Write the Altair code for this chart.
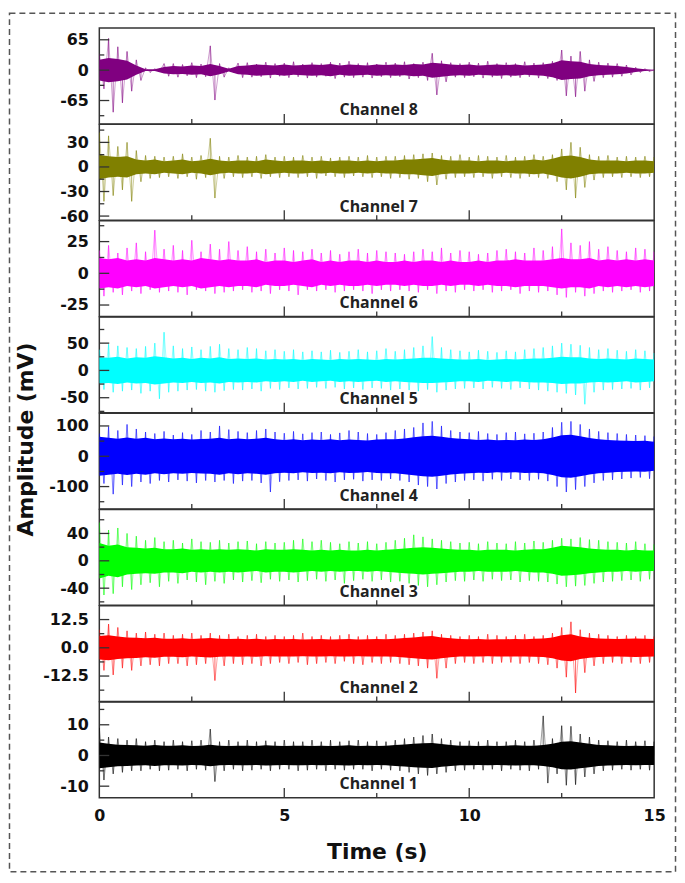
import altair as alt
import pandas as pd

CHANNELS = ["Channel 8", "Channel 7", "Channel 6", "Channel 5",
            "Channel 4", "Channel 3", "Channel 2", "Channel 1"]
COLORS = ["#800080", "#808000", "#ff00ff", "#00ffff",
          "#0000ff", "#00ff00", "#ff0000", "#000000"]
DOMAINS = [[-115, 90], [-65, 52], [-34, 41.5], [-77.5, 98],
           [-174, 142], [-65, 75], [-23.8, 18.6], [-13.8, 17.4]]
MAJOR = [[-65, 0, 65], [-60, -30, 0, 30], [-25, 0, 25], [-50, 0, 50],
         [-100, 0, 100], [-40, 0, 40], [-12.5, 0, 12.5], [-10, 0, 10]]
MINOR = [[-97.5, -32.5, 32.5], [-45, -15, 15, 45], [-12.5, 12.5, 37.5],
         [-75, -25, 25, 75], [-150, -50, 50], [-60, -20, 20, 60],
         [-18.75, -6.25, 6.25], [-5, 5, 15]]
LABEL_FMT = ["d", "d", "d", "d", "d", "d", ".1f", "d"]
X_LABELS = [0, 5, 10, 15]
X_MAJOR = [5, 10]
X_MINOR = [2.5, 7.5, 12.5]

# signal envelopes read every 0.25 s: upper / lower spike extremes and dense core half-width
CH8_UP = [35, 68, 50, 40, 22, 5, 3, 14, 14, 12, 16, 13, 52, 14, 5, 15,
          16, 13, 17, 14, 15, 18, 13, 16, 14, 17, 15, 19, 14, 16, 13, 17,
          15, 18, 14, 17, 36, 20, 16, 14, 17, 15, 19, 14, 16, 14, 18, 15,
          16, 19, 43, 30, 40, 22, 17, 15, 14, 11, 6, 3, 1]
CH8_LO = [-40, -90, -70, -45, -22, -5, -3, -13, -15, -12, -16, -14, -64, -15, -5, -16,
          -15, -14, -17, -13, -16, -14, -17, -15, -13, -18, -15, -16, -15, -17, -14, -16,
          -14, -19, -16, -22, -53, -25, -15, -16, -14, -17, -15, -18, -15, -16, -14, -17,
          -18, -22, -55, -57, -45, -24, -16, -15, -13, -10, -5, -3, -1]
CH8_CORE = [22, 26, 24, 20, 10, 2, 2, 7, 9, 8, 10, 9, 13, 9, 3, 9,
            10, 12, 11, 10, 12, 10, 11, 12, 11, 13, 10, 12, 11, 10, 12, 11,
            12, 11, 13, 12, 16, 14, 12, 11, 12, 10, 11, 12, 11, 12, 10, 11,
            12, 15, 21, 19, 18, 13, 11, 10, 9, 7, 4, 2, 1]

CH7_UP = [42, 38, 25, 30, 20, 14, 13, 12, 13, 16, 12, 14, 35, 13, 12, 14,
          12, 13, 15, 12, 13, 12, 14, 12, 13, 11, 12, 13, 12, 14, 12, 13,
          13, 14, 15, 16, 17, 14, 13, 15, 12, 14, 13, 12, 14, 12, 13, 15,
          13, 15, 22, 30, 24, 15, 13, 14, 12, 13, 12, 13, 12]
CH7_LO = [-42, -35, -28, -42, -18, -14, -13, -12, -14, -12, -15, -13, -38, -14, -12, -13,
          -12, -14, -12, -13, -12, -13, -12, -14, -11, -12, -13, -11, -12, -13, -12, -14,
          -13, -15, -14, -18, -22, -15, -13, -12, -13, -12, -14, -12, -13, -14, -12, -13,
          -14, -18, -28, -38, -25, -16, -13, -12, -13, -12, -13, -12, -11]
CH7_CORE = [15, 13, 12, 13, 9, 8, 9, 7, 8, 9, 7, 8, 10, 8, 7, 8,
            8, 7, 9, 8, 7, 8, 8, 7, 8, 7, 8, 8, 7, 8, 7, 8,
            8, 9, 9, 10, 11, 9, 8, 8, 8, 7, 8, 8, 7, 8, 8, 9,
            8, 10, 13, 14, 12, 9, 8, 8, 8, 7, 8, 8, 7]

CH6_UP = [18, 22, 16, 20, 24, 17, 34, 19, 22, 18, 26, 17, 23, 19, 25, 18,
          21, 17, 19, 16, 20, 18, 17, 19, 16, 18, 15, 17, 19, 16, 18, 17,
          16, 15, 17, 19, 17, 20, 16, 18, 17, 15, 16, 18, 19, 17, 16, 20,
          18, 21, 35, 24, 22, 25, 19, 21, 18, 17, 20, 19, 17]
CH6_LO = [-18, -15, -17, -14, -16, -13, -15, -14, -15, -17, -13, -14, -16, -15, -14, -13,
          -15, -14, -16, -13, -14, -17, -13, -14, -13, -15, -14, -13, -14, -16, -13, -14,
          -13, -14, -15, -13, -16, -14, -15, -13, -14, -13, -15, -14, -13, -16, -14, -15,
          -14, -17, -19, -15, -18, -16, -14, -15, -14, -13, -15, -14, -12]
CH6_CORE = [12, 11, 12, 10, 11, 10, 12, 11, 10, 11, 10, 12, 11, 10, 11, 10,
            10, 11, 9, 10, 10, 9, 10, 11, 9, 10, 9, 10, 10, 9, 10, 9,
            9, 10, 9, 10, 10, 9, 10, 9, 9, 10, 9, 10, 10, 11, 10, 10,
            10, 11, 12, 11, 11, 12, 10, 11, 10, 11, 10, 11, 10]

CH5_UP = [38, 48, 45, 42, 40, 44, 50, 70, 45, 40, 43, 38, 44, 48, 40, 38,
          42, 40, 36, 38, 35, 38, 34, 36, 34, 37, 33, 35, 38, 34, 36, 40,
          35, 38, 42, 45, 62, 42, 38, 36, 34, 37, 35, 33, 36, 34, 38, 40,
          42, 45, 50, 48, 46, 42, 38, 40, 37, 35, 38, 36, 32]
CH5_LO = [-35, -40, -38, -36, -42, -38, -52, -40, -38, -36, -35, -38, -40, -37, -35, -36,
          -34, -38, -33, -35, -32, -34, -33, -31, -33, -31, -34, -32, -35, -32, -33, -36,
          -34, -36, -38, -35, -40, -36, -34, -33, -32, -34, -31, -33, -35, -32, -34, -36,
          -38, -40, -42, -45, -62, -40, -36, -35, -34, -33, -36, -32, -30]
CH5_CORE = [24, 23, 25, 22, 24, 23, 26, 24, 22, 23, 21, 23, 22, 24, 21, 22,
            21, 22, 20, 21, 20, 21, 19, 21, 20, 19, 21, 20, 21, 20, 19, 21,
            20, 21, 22, 23, 23, 22, 21, 20, 20, 21, 19, 20, 21, 20, 21, 22,
            22, 23, 25, 24, 24, 22, 21, 22, 21, 20, 22, 21, 20]

CH4_UP = [75, 98, 85, 105, 90, 80, 75, 82, 70, 78, 72, 85, 80, 100, 88, 82,
          78, 85, 90, 80, 76, 82, 74, 78, 80, 72, 77, 85, 80, 75, 72, 78,
          85, 90, 95, 110, 115, 100, 85, 80, 78, 82, 75, 72, 78, 80, 74, 76,
          80, 95, 112, 115, 105, 90, 82, 78, 75, 72, 70, 68, 65]
CH4_LO = [-90, -125, -95, -100, -85, -90, -80, -85, -78, -82, -88, -80, -85, -80, -90, -82,
          -80, -88, -118, -84, -80, -78, -82, -75, -80, -85, -78, -76, -82, -78, -80, -75,
          -80, -85, -95, -100, -108, -90, -85, -80, -78, -82, -76, -80, -75, -78, -80, -76,
          -82, -100, -118, -110, -100, -88, -80, -78, -75, -72, -70, -74, -60]
CH4_CORE = [64, 61, 58, 62, 58, 61, 56, 59, 56, 58, 55, 57, 58, 61, 56, 59,
            56, 58, 61, 56, 54, 56, 53, 55, 54, 56, 53, 55, 54, 52, 55, 56,
            56, 59, 63, 66, 68, 64, 60, 58, 56, 54, 55, 53, 54, 53, 55, 54,
            56, 62, 69, 71, 66, 60, 56, 54, 52, 51, 50, 51, 48]

CH3_UP = [56, 45, 48, 40, 36, 30, 34, 28, 30, 26, 32, 28, 27, 30, 26, 28,
          29, 25, 28, 26, 27, 30, 32, 28, 30, 27, 25, 28, 26, 28, 25, 27,
          30, 33, 38, 35, 32, 30, 28, 26, 27, 25, 28, 26, 25, 28, 26, 29,
          27, 30, 33, 32, 34, 31, 30, 28, 27, 26, 28, 25, 24]
CH3_LO = [-50, -48, -38, -42, -35, -32, -38, -30, -33, -28, -31, -35, -30, -33, -28, -31,
          -29, -32, -27, -30, -28, -31, -29, -27, -30, -28, -33, -29, -27, -30, -28, -31,
          -30, -33, -36, -38, -35, -31, -29, -30, -28, -30, -27, -29, -28, -31, -29, -30,
          -31, -34, -38, -37, -36, -33, -31, -30, -29, -28, -30, -27, -25]
CH3_CORE = [26, 22, 24, 20, 19, 18, 19, 17, 17, 18, 16, 17, 16, 17, 16, 17,
            16, 15, 17, 16, 16, 17, 16, 15, 16, 15, 16, 15, 15, 16, 15, 16,
            17, 18, 19, 20, 19, 18, 17, 16, 16, 15, 16, 16, 16, 15, 16, 17,
            17, 19, 22, 21, 20, 18, 17, 16, 16, 15, 16, 15, 15]

CH2_UP = [8, 10.5, 9, 7.5, 6.5, 7, 6, 6.5, 5.5, 6, 6.5, 5.5, 6.5, 5.5, 6, 5,
          5.5, 6, 5, 5.5, 5, 5.5, 6.5, 5, 5.5, 5, 5.5, 6, 5, 5.5, 5, 6,
          5.5, 6, 6.5, 7, 7.5, 6, 5.5, 5, 5.5, 5, 6, 5.5, 5, 5.5, 6, 5,
          5.5, 6.5, 9, 11.5, 8, 6.5, 6, 5.5, 5, 5.5, 5, 5.5, 5]
CH2_LO = [-10, -12, -9, -10, -8, -7.5, -8, -7, -7, -8, -7.5, -7, -14.5, -8, -7, -7.5,
          -7, -8, -7, -6.5, -7, -6.5, -7.5, -7, -6.5, -7, -6, -7, -7.5, -6.5, -7, -6.5,
          -7, -7.5, -8, -9, -13.5, -9, -7, -6.5, -7, -6.5, -7, -6.5, -6.5, -7, -6.5, -7,
          -7.5, -9, -13, -20, -11, -8, -7, -6.5, -7, -6.5, -7, -6.5, -6]
CH2_CORE = [5.2, 5.5, 5, 4.6, 4.5, 4.2, 4.4, 4, 4, 4.2, 3.9, 4.1, 4.3, 4, 3.9, 4,
            3.8, 4, 3.7, 3.9, 3.8, 3.9, 3.7, 3.8, 3.9, 3.7, 3.8, 3.9, 3.7, 3.8, 3.9, 3.8,
            4, 4.3, 4.6, 5, 5.2, 4.6, 4.2, 3.9, 3.8, 3.9, 3.7, 3.8, 3.8, 3.9, 3.8, 4,
            4.1, 4.6, 5.6, 6, 5, 4.4, 4.1, 4, 3.9, 4, 4.1, 4, 3.9]

CH1_UP = [9, 6, 5.5, 5, 5.5, 4.5, 5, 4.5, 5, 4.5, 4.8, 5, 8.6, 4.5, 5, 4.5,
          5, 4.5, 4.8, 4.5, 5, 4.5, 4.5, 5, 4.5, 5, 4.5, 4.8, 5, 4.5, 4.8, 4.5,
          5, 5.5, 6, 6.5, 7, 5.5, 5, 4.5, 4.8, 4.5, 5, 4.5, 4.5, 5, 4.5, 5,
          12.9, 5.5, 9.7, 9.5, 7, 6, 5, 4.8, 4.5, 5, 4.5, 4.8, 4.5]
CH1_LO = [-8, -6, -5.5, -5, -5, -4.5, -5, -4.8, -4.5, -5, -4.5, -4.8, -8.5, -5, -4.5, -5,
          -4.8, -4.5, -5, -4.5, -4.5, -5, -4.8, -4.5, -5, -4.5, -4.8, -4.5, -4.5, -5, -4.5, -4.8,
          -5, -5.5, -6, -6.5, -6, -5.5, -5, -4.8, -4.5, -4.8, -4.5, -5, -4.5, -4.8, -5, -4.5,
          -9, -6, -9.7, -9.5, -7, -6, -5, -4.8, -4.5, -4.8, -4.5, -4.8, -4.5]
CH1_CORE = [4.2, 3.8, 3.5, 3.4, 3.3, 3.2, 3.4, 3.2, 3.2, 3.3, 3.1, 3.2, 3.5, 3.2, 3.1, 3.2,
            3.2, 3.1, 3.3, 3.2, 3.1, 3.2, 3.2, 3.1, 3.2, 3.1, 3.2, 3.3, 3.1, 3.2, 3.1, 3.2,
            3.4, 3.6, 3.8, 4, 4.1, 3.7, 3.4, 3.2, 3.2, 3.1, 3.2, 3.1, 3.2, 3.3, 3.2, 3.2,
            3.4, 3.8, 4.5, 4.6, 4.2, 3.8, 3.4, 3.3, 3.2, 3.1, 3.2, 3.1, 3.1]

SIGNALS = [(CH8_UP, CH8_LO, CH8_CORE), (CH7_UP, CH7_LO, CH7_CORE),
           (CH6_UP, CH6_LO, CH6_CORE), (CH5_UP, CH5_LO, CH5_CORE),
           (CH4_UP, CH4_LO, CH4_CORE), (CH3_UP, CH3_LO, CH3_CORE),
           (CH2_UP, CH2_LO, CH2_CORE), (CH1_UP, CH1_LO, CH1_CORE)]

W, H = 559, 96.5
FONT = "DejaVu Sans"
xscale = alt.Scale(domain=[0, 15], nice=False, zero=False)
HYPHEN = "replace(datum.label, '\u2212', '-')"


def panel(i):
    up, lo, core = SIGNALS[i]
    color = COLORS[i]
    t_fine = [k * 0.25 for k in range(len(up))]
    spikes = pd.DataFrame({
        "t": t_fine + [t + 0.125 for t in t_fine],
        "v": list(up) + list(lo),
        "z": [0] * (2 * len(up)),
    })
    zt, zv = [], []
    for k in range(len(up)):
        zt += [t_fine[k], t_fine[k] + 0.125]
        zv += [up[k], lo[k]]
    zig = pd.DataFrame({"t": zt, "v": zv})
    core_df = pd.DataFrame({"t": t_fine, "lo": [-c for c in core], "hi": core})

    yscale = alt.Scale(domain=DOMAINS[i], nice=False, zero=False)
    yargs = dict(values=MAJOR[i], format=LABEL_FMT[i], labelExpr=HYPHEN, ticks=False,
                 domain=False, grid=False, labelPadding=11, labelFlush=False,
                 labelOverlap=False, labelFont=FONT, labelFontWeight="bold",
                 labelFontSize=16, labelColor="#111111", title=None)
    if i == 4:
        yargs.update(title="Amplitude (mV)", titleFont=FONT, titleFontSize=22,
                     titleFontWeight="bold", titleColor="#111111", titleX=-74.5,
                     titleY=26, titleAngle=270, titleAlign="center",
                     titleBaseline="middle")
    yaxis = alt.Axis(**yargs)
    if i == 7:
        xaxis = alt.Axis(values=X_LABELS, format="d", ticks=False, domain=False,
                         grid=False, labelPadding=10, labelFlush=False,
                         labelFont=FONT, labelFontWeight="bold", labelFontSize=16,
                         labelColor="#111111", title="Time (s)", titleFont=FONT,
                         titleFontSize=22, titleFontWeight="bold",
                         titleColor="#111111", titlePadding=18)
    else:
        xaxis = None

    def X(f):
        return alt.X(f, scale=xscale, axis=xaxis)

    def Y(f):
        return alt.Y(f, scale=yscale, axis=yaxis)

    layers = []
    layers.append(alt.Chart(zig).mark_line(color=color, strokeWidth=0.7,
                                           opacity=0.55, clip=True).encode(
        x=X("t:Q"), y=Y("v:Q")))
    layers.append(alt.Chart(spikes).mark_rule(color=color, strokeWidth=1,
                                              opacity=0.6, clip=True).encode(
        x=X("t:Q"), y=Y("z:Q"), y2="v:Q"))
    layers.append(alt.Chart(core_df).mark_area(color=color, clip=True).encode(
        x=X("t:Q"), y=Y("lo:Q"), y2="hi:Q"))
    layers.append(alt.Chart(pd.DataFrame({"v": MAJOR[i]})).mark_rule(
        color="#333333", strokeWidth=1.3).encode(
        y=Y("v:Q"), x=alt.value(0), x2=alt.value(10)))
    layers.append(alt.Chart(pd.DataFrame({"v": MINOR[i]})).mark_rule(
        color="#333333", strokeWidth=1.3).encode(
        y=Y("v:Q"), x=alt.value(0), x2=alt.value(5)))
    layers.append(alt.Chart(pd.DataFrame({"t": X_MAJOR})).mark_rule(
        color="#333333", strokeWidth=1.3).encode(
        x=X("t:Q"), y=alt.value(H), y2=alt.value(H - 10)))
    layers.append(alt.Chart(pd.DataFrame({"t": X_MINOR})).mark_rule(
        color="#333333", strokeWidth=1.3).encode(
        x=X("t:Q"), y=alt.value(H), y2=alt.value(H - 5)))
    layers.append(alt.Chart(pd.DataFrame({"label": [CHANNELS[i]]})).mark_text(
        font="Open Sans", fontWeight="bold", fontSize=16, color="#222222",
        align="center", baseline="middle").encode(
        x=alt.value(W / 2 + 2), y=alt.value(H - 13.5), text="label:N"))
    if i == 0:
        layers.append(alt.Chart(pd.DataFrame({"a": [0]})).mark_rect(
            fill="transparent", stroke="#555555", strokeWidth=1.5,
            strokeDash=[6, 4], clip=False).encode(
            x=alt.value(-90.5), x2=alt.value(580.5),
            y=alt.value(-15), y2=alt.value(850)))
    return alt.layer(*layers).properties(width=W, height=H)


chart = alt.vconcat(*[panel(i) for i in range(8)], spacing=0, bounds="flush").properties(
    padding=0, background="white"
).configure_view(stroke="#333333", strokeWidth=1.5)

chart.save("out.html", embed_options={"renderer": "svg", "actions": False})
